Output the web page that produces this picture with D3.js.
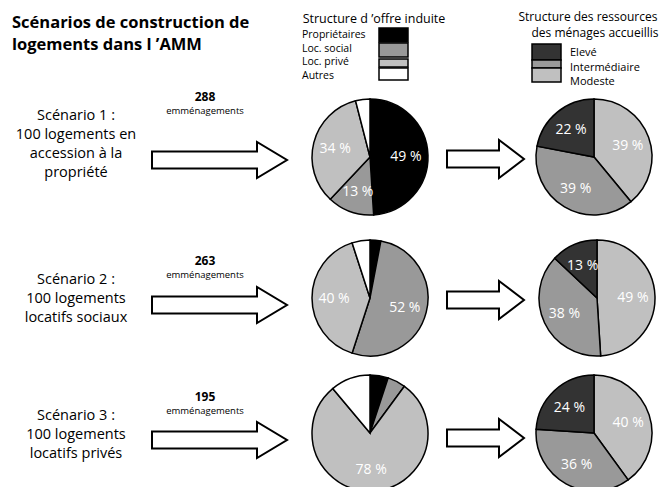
<!DOCTYPE html>
<html>
<head>
<meta charset="UTF-8">
<title>Scénarios de construction de logements</title>
<style>
  body { margin: 0; background: #fff; }
  svg { display: block; font-family: "Open Sans", sans-serif; }
  .slice { stroke: #000; stroke-width: 1.5px; }
  .pct { fill: #fff; font-size: 14px; text-anchor: middle; }
  .scen { font-size: 14.5px; text-anchor: middle; }
  .arrow { fill: #fff; stroke: #000; stroke-width: 2px; }
</style>
</head>
<body>
<div id="chart"></div>
<script src="https://cdn.jsdelivr.net/npm/d3@7"></script>
<script>
// data
const offreCats = ["Propriétaires", "Loc. social", "Loc. privé", "Autres"];
const menagesCats = ["Elevé", "Intermédiaire", "Modeste"];
const scenarioLabels = [
  ["Scénario 1 :", "100 logements en", "accession à la", "propriété"],
  ["Scénario 2 :", "100 logements", "locatifs sociaux"],
  ["Scénario 3 :", "100 logements", "locatifs privés"]
];
const emmenagements = [288, 263, 195];
// offre induite, in the order of offreCats
const offre1 = [49, 13, 34, 4];
const offre2 = [3, 52, 40, 5];
const offre3 = [5, 5, 78, 11];
// ressources des ménages, in the order of menagesCats
const menages1 = [22, 39, 39];
const menages2 = [13, 38, 49];
const menages3 = [24, 36, 40];
const offreLabelShow = [[true, true, true, false], [false, true, true, false], [false, false, true, false]];

const W = 665, H = 487;
const svg = d3.select("#chart").append("svg").attr("width", W).attr("height", H);

const offreColor = d3.scaleOrdinal().domain(offreCats).range(["#000000", "#999999", "#c0c0c0", "#ffffff"]);
const menColor = d3.scaleOrdinal().domain(menagesCats).range(["#333333", "#999999", "#c0c0c0"]);

// title
svg.append("text").attr("x", 12).attr("y", 28).attr("font-size", 16.5).attr("font-weight", "bold").text("Scénarios de construction de");
svg.append("text").attr("x", 12).attr("y", 50).attr("font-size", 16.5).attr("font-weight", "bold").text("logements dans l ’AMM");

// legend offre
svg.append("text").attr("x", 374).attr("y", 23).attr("font-size", 12.5).attr("text-anchor", "middle").text("Structure d ’offre induite");
const offreBoxes = [[28, 42], [43, 57], [59, 67], [68, 80]];
const offreTextY = [38, 52, 65, 79];
offreCats.forEach((c, i) => {
  svg.append("rect").attr("x", 379).attr("y", offreBoxes[i][0]).attr("width", 29)
    .attr("height", offreBoxes[i][1] - offreBoxes[i][0])
    .attr("fill", offreColor(c)).attr("stroke", "#000").attr("stroke-width", 1.5);
  svg.append("text").attr("x", 302).attr("y", offreTextY[i]).attr("font-size", 10.5).text(c);
});

// legend ménages
svg.append("text").attr("x", 588).attr("y", 21).attr("font-size", 12).attr("text-anchor", "middle").text("Structure des ressources");
svg.append("text").attr("x", 595).attr("y", 37).attr("font-size", 12).attr("text-anchor", "middle").text("des ménages accueillis");
const menBoxes = [[44, 60], [60, 68], [68, 82]];
const menTextY = [56, 71, 85];
menagesCats.forEach((c, i) => {
  svg.append("rect").attr("x", 532).attr("y", menBoxes[i][0]).attr("width", 29)
    .attr("height", menBoxes[i][1] - menBoxes[i][0])
    .attr("fill", menColor(c)).attr("stroke", "#000").attr("stroke-width", 1.5);
  svg.append("text").attr("x", 570).attr("y", menTextY[i]).attr("font-size", 11).text(c);
});

// rows layout
const rows = [
  { cy: 157, ay: 160, by: 159, tY: 115, offre: offre1, men: menages1, mcx: 594 },
  { cy: 298, ay: 305, by: 300, tY: 279, offre: offre2, men: menages2, mcx: 597 },
  { cy: 433, ay: 440, by: 438, tY: 415, offre: offre3, men: menages3, mcx: 594 }
];
const R = 58;
const arc = d3.arc().innerRadius(0).outerRadius(R);
const labelArc = d3.arc().innerRadius(R * 0.62).outerRadius(R * 0.62);
const pie = d3.pie().sort(null).value(d => d.v);

function arrowPath(x0, x1, xh, y, sh, hh) {
  return `M${x0},${y - sh}L${xh},${y - sh}L${xh},${y - hh}L${x1},${y}L${xh},${y + hh}L${xh},${y + sh}L${x0},${y + sh}Z`;
}

rows.forEach((r, i) => {
  // scenario text
  scenarioLabels[i].forEach((t, j) => {
    svg.append("text").attr("class", "scen").attr("x", 76).attr("y", r.tY + 5 + j * 19).text(t);
  });
  // count
  svg.append("text").attr("x", 205).attr("y", r.tY - 14).attr("font-size", 12).attr("font-weight", "bold")
    .attr("text-anchor", "middle").text(emmenagements[i]);
  svg.append("text").attr("x", 205).attr("y", r.tY - 1).attr("font-size", 9.5)
    .attr("text-anchor", "middle").text("emménagements");
  // arrows
  svg.append("path").attr("class", "arrow").attr("d", arrowPath(152, 287, 257, r.ay, 8.5, 18));
  svg.append("path").attr("class", "arrow").attr("d", arrowPath(447, 524, 499, r.by, 8.5, 19));

  // offre pie, clockwise from top
  const g1 = svg.append("g").attr("transform", `translate(370,${r.cy})`);
  const d1 = pie(offreCats.map((c, k) => ({ c, v: r.offre[k], k })));
  g1.selectAll("path").data(d1).join("path").attr("class", "slice")
    .attr("d", arc).attr("fill", d => offreColor(d.data.c));
  g1.selectAll("text").data(d1.filter(d => offreLabelShow[i][d.data.k])).join("text").attr("class", "pct")
    .attr("transform", d => `translate(${labelArc.centroid(d)})`).attr("dy", "0.35em")
    .text(d => d.data.v + " %");

  // ménages pie: Modeste, Intermédiaire, Elevé clockwise from top
  const g2 = svg.append("g").attr("transform", `translate(${r.mcx},${r.cy})`);
  const order = [2, 1, 0];
  const d2 = pie(order.map(k => ({ c: menagesCats[k], v: r.men[k] })));
  g2.selectAll("path").data(d2).join("path").attr("class", "slice")
    .attr("d", arc).attr("fill", d => menColor(d.data.c));
  g2.selectAll("text").data(d2).join("text").attr("class", "pct")
    .attr("transform", d => `translate(${labelArc.centroid(d)})`).attr("dy", "0.35em")
    .text(d => d.data.v + " %");
});
</script>
</body>
</html>
